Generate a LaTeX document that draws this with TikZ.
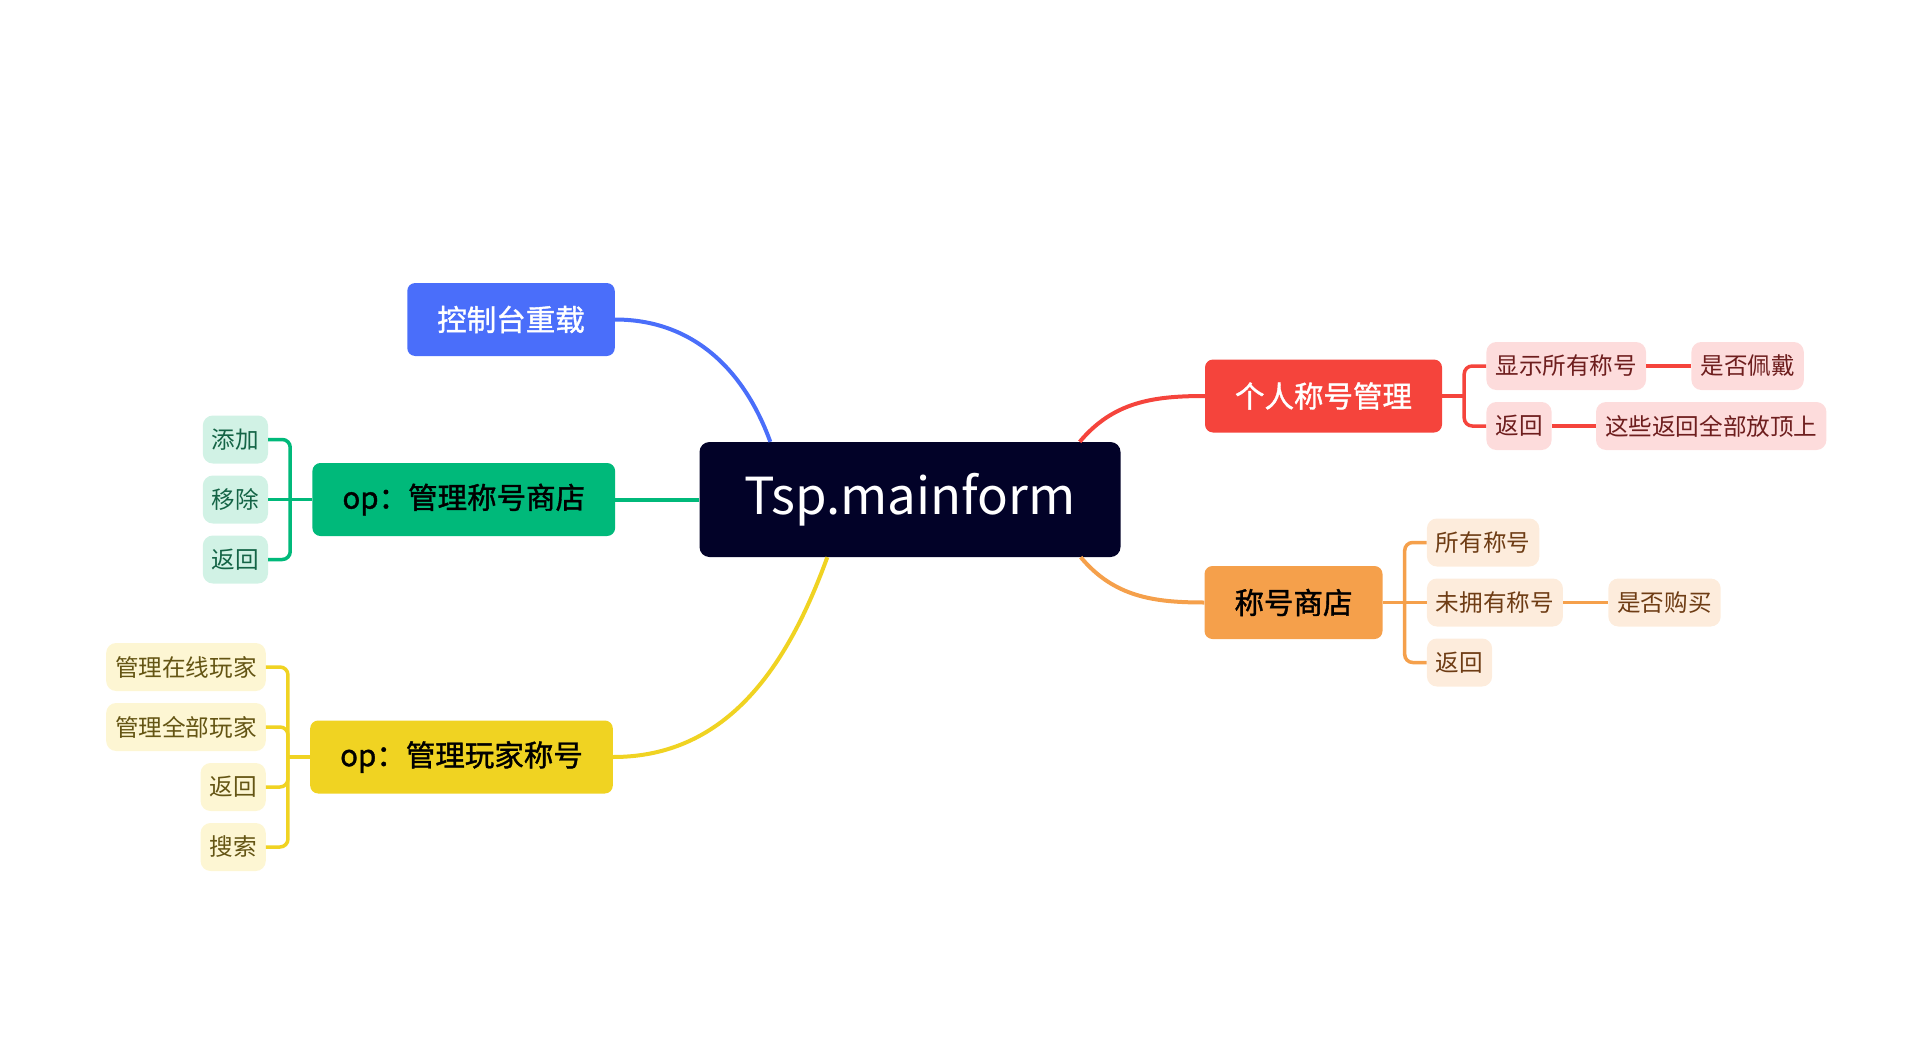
\documentclass[tikz,border=0pt]{standalone}
\usepackage{fontspec}
\setmainfont{Noto Sans CJK SC}
\newfontfamily\midfont[FakeBold=1.3]{Noto Sans CJK SC}
\usepackage{xcolor}
\usepackage{tikz}
\usetikzlibrary{positioning}

\definecolor{hubc}{RGB}{2,2,40}
\definecolor{bluec}{RGB}{74,110,250}
\definecolor{greenc}{RGB}{0,185,122}
\definecolor{yellowc}{RGB}{240,211,34}
\definecolor{redc}{RGB}{245,68,60}
\definecolor{orangec}{RGB}{245,160,75}
\definecolor{greenl}{RGB}{209,242,229}
\definecolor{yellowl}{RGB}{253,246,211}
\definecolor{redl}{RGB}{253,220,220}
\definecolor{orangel}{RGB}{253,236,220}
\definecolor{greent}{RGB}{20,100,70}
\definecolor{yellowt}{RGB}{100,85,20}
\definecolor{redt}{RGB}{110,30,30}
\definecolor{oranget}{RGB}{110,60,20}

\begin{document}
\begin{tikzpicture}[x=1pt, y=1pt,
    hubbox/.style={rectangle, rounded corners=10pt, fill=hubc, text=white,
                minimum width=421pt, minimum height=115pt,
                font=\fontsize{51}{58}\selectfont},
    topic/.style={rectangle, rounded corners=8pt, inner xsep=30pt, inner ysep=0pt,
                minimum height=73pt, font=\fontsize{29.5}{34}\selectfont\midfont},
    leaf/.style={rectangle, rounded corners=10pt, inner xsep=9pt, inner ysep=0pt,
                minimum height=48pt, font=\fontsize{23.6}{28}\selectfont},
    gleaf/.style={leaf, fill=greenl, text=greent},
    yleaf/.style={leaf, fill=yellowl, text=yellowt},
    rleaf/.style={leaf, fill=redl, text=redt},
    oleaf/.style={leaf, fill=orangel, text=oranget},
    link/.style={line width=4pt},
    twig/.style={line width=3.5pt, rounded corners=8pt}]

    \useasboundingbox (0,0) rectangle (1924,-1038);

    % centre and main topics
    \node[hubbox] (hub) at (910,-499.5) {Tsp.mainform};
    \node[topic, fill=bluec, text=white] (reload) at (511,-319.5) {控制台重载};
    \node[topic, fill=greenc, left=84pt of hub] (shopop) {op：管理称号商店};
    \node[topic, fill=yellowc] (playerop) at (461.5,-757) {op：管理玩家称号};
    \node[topic, fill=redc, text=white] (mine) at (1323.5,-396) {个人称号管理};
    \node[topic, fill=orangec] (shop) at (1293.5,-602.5) {称号商店};

    \draw[link, bluec] (reload.east) to[out=0, in=110] ([xshift=71pt]hub.north west);
    \draw[link, greenc] (shopop.east) -- (hub.west);
    \draw[link, yellowc] (playerop.east) to[out=0, in=250] ([xshift=128pt]hub.south west);
    \draw[link, redc] ([xshift=-41pt]hub.north east) to[out=50, in=180] (mine.west);
    \draw[link, orangec] ([xshift=-40pt]hub.south east) to[out=-50, in=180] (shop.west);

    % op shop leaves
    \node[gleaf, left=44pt of shopop] (sdel) {移除};
    \node[gleaf, anchor=east] (sadd) at ([yshift=60pt]sdel.east) {添加};
    \node[gleaf, anchor=east] (sback) at ([yshift=-60pt]sdel.east) {返回};
    \coordinate (gj) at ([xshift=-22pt]shopop.west);
    \foreach \l in {sadd,sback}
        \draw[twig, greenc] (\l.east) -| (gj);
    \draw[twig, greenc] (sdel) -- (shopop);

    % op player leaves
    \node[yleaf, anchor=east] (pon) at ([xshift=-44pt,yshift=90pt]playerop.west) {管理在线玩家};
    \node[yleaf, anchor=east] (pall) at ([yshift=-60pt]pon.east) {管理全部玩家};
    \node[yleaf, anchor=east] (pback) at ([yshift=-60pt]pall.east) {返回};
    \node[yleaf, anchor=east] (pfind) at ([yshift=-60pt]pback.east) {搜索};
    \coordinate (yj) at ([xshift=-22pt]playerop.west);
    \foreach \l in {pon,pall,pback,pfind}
        \draw[twig, yellowc] (\l.east) -| (yj);
    \draw[twig, yellowc] (yj) -- (playerop.west);

    % personal titles
    \node[rleaf, anchor=west] (mshow) at ([xshift=44pt,yshift=30pt]mine.east) {显示所有称号};
    \node[rleaf, anchor=west] (mback) at ([yshift=-60pt]mshow.west) {返回};
    \node[rleaf, right=45pt of mshow] (mwear) {是否佩戴};
    \node[rleaf, right=44pt of mback] (mtop) {这些返回全部放顶上};
    \coordinate (rj) at ([xshift=22pt]mine.east);
    \foreach \l in {mshow,mback}
        \draw[twig, redc] (\l.west) -| (rj);
    \draw[twig, redc] (rj) -- (mine.east);
    \draw[twig, redc] (mshow) -- (mwear);
    \draw[twig, redc] (mback) -- (mtop);

    % title shop
    \node[oleaf, right=44pt of shop] (snot) {未拥有称号};
    \node[oleaf, anchor=west] (sall) at ([yshift=60pt]snot.west) {所有称号};
    \node[oleaf, anchor=west] (sret) at ([yshift=-60pt]snot.west) {返回};
    \node[oleaf, right=45pt of snot] (sbuy) {是否购买};
    \coordinate (oj) at ([xshift=22pt]shop.east);
    \foreach \l in {sall,sret}
        \draw[twig, orangec] (\l.west) -| (oj);
    \draw[twig, orangec] (snot) -- (shop);
    \draw[twig, orangec] (snot) -- (sbuy);
\end{tikzpicture}
\end{document}
